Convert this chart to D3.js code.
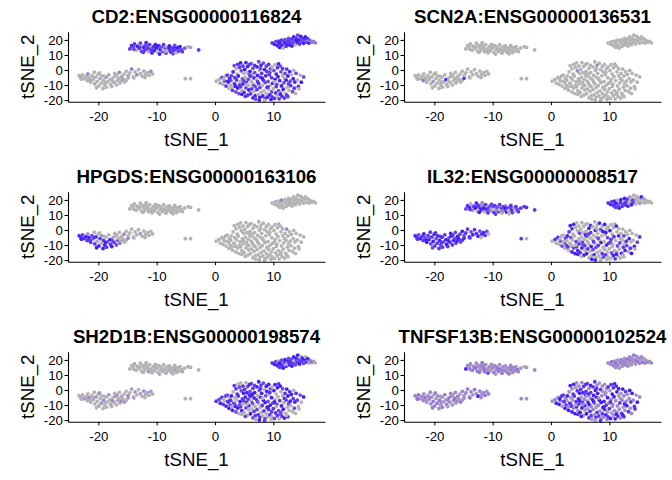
<!DOCTYPE html>
<html>
<head>
<meta charset="utf-8">
<script src="https://cdn.jsdelivr.net/npm/d3@7"></script>
<style>
  body { margin: 0; background: #fff; }
  text { font-family: "Liberation Sans", Arial, sans-serif; fill: #000; }
</style>
</head>
<body>
<svg id="chart" width="672" height="480"></svg>
<script>
// gene titles, one panel each (row by row)
const genes = ["CD2:ENSG00000116824", "SCN2A:ENSG00000136531", "HPGDS:ENSG00000163106",
               "IL32:ENSG00000008517", "SH2D1B:ENSG00000198574", "TNFSF13B:ENSG00000102524"];
const xTicks = [-20, -10, 0, 10];
const yTicks = [-20, -10, 0, 10, 20];

// tSNE coordinates, by cluster
const clusterA = [
  [-14.6,14.0],[-14.3,16.2],[-14.0,15.0],[-13.8,17.3],[-13.5,13.2],[-13.3,15.8],[-13.0,14.4],[-12.8,17.9],[-12.6,12.5],[-12.4,16.3],
  [-12.2,14.9],[-12.0,13.4],[-11.8,18.2],[-11.6,15.6],[-11.4,12.2],[-11.2,16.9],[-11.0,14.1],[-10.8,11.4],[-10.6,15.3],[-10.4,13.0],
  [-10.2,17.1],[-10.0,14.6],[-9.8,11.8],[-9.6,16.2],[-9.4,13.6],[-9.2,15.1],[-9.0,12.4],[-8.8,16.8],[-8.6,14.0],[-8.4,11.2],
  [-8.2,15.5],[-8.0,13.1],[-7.8,16.0],[-7.6,12.0],[-7.4,14.5],[-7.2,10.8],[-7.0,15.2],[-6.8,13.3],[-6.6,11.6],[-6.4,14.8],
  [-6.2,12.6],[-6.0,15.6],[-5.8,13.8],[-5.6,12.2],[-12.9,15.2],[-11.9,16.5],[-10.9,12.9],[-9.9,15.9],[-8.9,13.4],[-7.9,14.7],
  [-13.9,13.8],[-12.3,11.8],[-10.3,16.4],[-8.3,12.7],[-9.5,10.6],[-11.5,14.3],[-7.3,13.0],[-6.9,16.3],[-4.6,15.6],[-4.2,15.0],
  [-2.8,13.4],[-5.2,14.5]
];
const clusterB = [
  [-23.3,-3.8],[-23.0,-4.9],[-22.7,-3.2],[-22.4,-5.8],[-22.1,-4.3],[-21.9,-7.0],[-21.8,-2.6],[-21.6,-5.1],[-21.3,-8.2],[-21.1,-3.7],
  [-20.9,-6.3],[-20.7,-1.5],[-20.6,-9.3],[-20.4,-4.6],[-20.2,-7.6],[-20.0,-2.8],[-19.9,-10.6],[-19.7,-5.7],[-19.5,-8.8],[-19.4,-3.9],
  [-19.2,-12.3],[-19.1,-6.9],[-18.9,-10.0],[-18.7,-4.8],[-18.6,-11.4],[-18.4,-7.9],[-18.2,-3.2],[-18.0,-6.4],[-17.9,-9.6],[-17.7,-11.0],
  [-17.5,-5.2],[-17.3,-8.3],[-17.1,-4.1],[-16.9,-9.9],[-16.7,-6.9],[-16.5,-5.6],[-16.3,-8.7],[-16.1,-7.4],[-15.8,-6.1],[-15.5,-8.0],
  [-15.2,-6.8],[-14.9,-5.4],[-20.3,-11.8],[-21.4,-6.7],[-19.8,-1.9],[-18.8,-8.5],[-17.6,-7.2],[-22.9,-6.1],[-20.8,-5.2],[-19.0,-4.2],
  [-17.2,-2.3],[-16.8,-3.4],[-16.4,-1.6],[-16.0,-4.3],[-15.6,-2.7],[-15.2,-0.9],[-14.9,-3.8],[-14.6,-2.0],[-14.3,0.6],[-14.0,-4.6],
  [-13.7,-1.3],[-13.4,-3.2],[-13.1,0.2],[-12.8,-2.4],[-12.5,-4.1],[-12.2,-0.7],[-11.9,-2.9],[-11.6,-1.7],[-11.3,-3.6],[-11.0,-1.0],
  [-10.7,-2.6],[-15.9,-5.6],[-13.9,-5.3],[-12.0,-5.0]
];
const clusterC = [[-5.1,-5.8],[-4.2,-5.8]];
const clusterD = [
  [0.2,-7.5],[0.7,-6.3],[0.9,-8.8],
  [1.2,-5.0],[1.4,-9.6],[1.6,-7.2],[1.8,-4.1],[1.9,-10.7],[1.5,-6.0],
  [2.1,-3.4],[2.3,-8.1],[2.4,-12.2],[2.5,-5.6],[2.6,-10.0],[2.7,-6.9],[2.8,-3.9],[2.9,-11.3],[2.2,-7.6],
  [3.0,-13.5],[3.1,-1.2],[3.2,-8.7],[3.3,2.9],[3.4,-5.1],[3.5,-10.9],[3.6,0.8],[3.6,-14.6],[3.7,-6.6],[3.8,-2.7],[3.9,-12.0],[3.9,3.8],[3.4,-9.4],
  [4.0,-4.0],[4.1,-15.7],[4.2,1.9],[4.3,-7.8],[4.4,-11.2],[4.4,4.7],[4.5,-0.5],[4.6,-13.8],[4.7,-5.9],[4.8,-9.3],[4.8,2.6],[4.9,-2.1],[4.2,-10.1],[4.6,-16.2],[4.9,-7.0],
  [5.0,-14.9],[5.1,0.4],[5.2,-4.7],[5.3,-11.9],[5.3,4.9],[5.4,-8.3],[5.5,-1.8],[5.6,-16.8],[5.6,2.3],[5.7,-6.2],[5.8,-10.4],[5.8,-13.3],[5.9,-3.3],[5.2,-17.6],[5.5,-9.5],[5.9,3.6],
  [6.0,-0.9],[6.1,-15.8],[6.2,-7.4],[6.2,4.2],[6.3,-12.6],[6.4,-2.8],[6.5,-18.5],[6.5,1.1],[6.6,-9.9],[6.7,-5.3],[6.7,-14.2],[6.8,3.0],[6.9,-11.0],[6.9,-17.1],[6.1,-4.1],[6.4,-8.6],[6.8,-1.7],
  [7.0,-19.4],[7.1,-6.4],[7.2,2.1],[7.2,-13.1],[7.3,-3.6],[7.4,-16.4],[7.5,5.5],[7.5,-9.1],[7.6,-0.2],[7.7,-18.2],[7.7,-11.7],[7.8,-4.9],[7.9,3.3],[7.9,-14.9],[7.3,-7.8],[7.6,-20.0],[7.8,1.0],
  [8.0,-2.2],[8.1,-10.3],[8.2,-17.3],[8.3,4.6],[8.3,-6.9],[8.4,-13.9],[8.5,0.3],[8.6,-19.1],[8.6,-8.4],[8.7,-3.9],[8.8,-15.8],[8.8,2.5],[8.9,-11.6],[8.1,-5.5],[8.5,-20.3],[8.9,-1.0],
  [9.0,-18.0],[9.1,-7.6],[9.2,3.8],[9.2,-13.0],[9.3,-3.0],[9.4,-16.5],[9.5,0.9],[9.5,-10.0],[9.6,-19.6],[9.7,-5.1],[9.7,-14.6],[9.8,2.0],[9.9,-8.8],[9.1,-11.3],[9.4,-1.6],[9.8,-17.9],
  [10.0,-12.4],[10.1,-0.4],[10.2,-18.9],[10.3,-6.2],[10.3,3.6],[10.4,-15.3],[10.5,-2.7],[10.6,-9.5],[10.7,1.5],[10.7,-17.0],[10.8,-4.5],[10.9,-13.7],[10.2,-8.0],[10.5,-11.0],[10.9,4.1],
  [11.0,-19.2],[11.1,-7.1],[11.2,2.6],[11.3,-14.9],[11.3,-1.2],[11.4,-10.6],[11.5,-17.6],[11.6,-3.9],[11.6,0.9],[11.7,-12.8],[11.8,-8.6],[11.9,-5.6],[11.2,-16.1],[11.9,-18.7],
  [12.0,-2.3],[12.1,-15.5],[12.2,-6.8],[12.3,0.6],[12.4,-11.4],[12.5,-17.8],[12.5,-4.0],[12.6,-9.2],[12.7,-13.6],[12.8,-1.1],[12.9,-7.5],[12.3,-16.7],
  [13.0,-10.4],[13.1,-3.0],[13.3,-14.4],[13.4,-5.8],[13.5,-0.3],[13.6,-12.1],[13.7,-8.0],[13.8,-15.6],[13.9,-2.2],
  [14.1,-6.7],[14.3,-10.9],[14.6,-3.4],[14.8,-8.1],[15.2,-4.6],[14.4,-12.6]
];
const clusterE = [
  [9.8,18.0],[10.2,17.1],[10.4,18.8],[10.7,16.2],[10.9,19.2],[11.1,15.0],[11.2,17.6],[11.4,19.8],[11.5,16.4],[11.7,14.6],
  [11.9,18.3],[12.0,20.2],[12.2,15.8],[12.3,17.2],[12.5,19.4],[12.6,21.0],[12.8,16.6],[12.9,18.7],[13.1,20.6],[13.2,15.9],
  [13.4,17.8],[13.5,22.0],[13.6,19.5],[13.8,16.8],[13.9,21.1],[14.1,18.4],[14.2,23.2],[14.4,20.0],[14.5,17.3],[14.7,22.3],
  [14.8,19.1],[15.0,21.2],[15.2,17.8],[15.3,20.4],[15.5,22.0],[15.7,18.6],[15.9,20.9],[16.1,17.9],[16.3,19.7],[16.6,18.4],
  [16.9,19.0],[17.2,18.1],[11.0,17.9],[12.7,17.9],[14.0,19.7]
];

// expression level per cell (0 = none ... 10 = max), gene order as in `genes`
const exprA = [
  "8978098870" + "9897086989" + "7908978897" + "0898779809" + "8978878909" + "7890988701" + "86",
  "0000000000" + "0000000000" + "0000000000" + "0000000000" + "0000000000" + "0000000000" + "00",
  "0000000000" + "0000000000" + "0000000000" + "0000000000" + "0000000000" + "0000000000" + "00",
  "7890378908" + "8937089873" + "9088379890" + "8739807983" + "0878937809" + "8973890888" + "88",
  "0001000000" + "0000200000" + "0100000001" + "0000000200" + "0001000000" + "0000100010" + "00",
  "9323423342" + "3243432832" + "2342343234" + "3423243423" + "3243432342" + "3423242302" + "32"
];
const exprB = [
  "0100003000" + "0010000100" + "0003001000" + "0100000030" + "0001000000" + "0030001040" + "0300010003" + "0100",
  "0000040000" + "0000200000" + "0000000900" + "0000000000" + "0900000000" + "0000000000" + "0000000000" + "0000",
  "8978982987" + "0089109803" + "9890870989" + "2807605030" + "0498097980" + "0000300000" + "0002000000" + "0000",
  "8979889798" + "9878998789" + "8979878998" + "7898978987" + "8979889878" + "9879897889" + "7988978987" + "0980",
  "0102010300" + "1002001020" + "0301002010" + "0020100302" + "0100203010" + "0201003010" + "2001030102" + "0010",
  "3242332423" + "2332423243" + "3423324232" + "4232342324" + "2342323432" + "3234232342" + "3242932342" + "3243"
];
const exprC = ["00", "00", "00", "80", "00", "32"];
const exprD = [
  ["002", "708080", "870907809", "8907890780989", "978089707980897", "8907980897097808", "98078097890879807",
   "70989078098790897", "8097809879078908", "9780897098709878", "078908978097089", "89707980897098",
   "709807980978", "807908907", "080970"].join(""),
  ["000", "000000", "000000000", "0000000000000", "000000300000000", "0000000000000000", "00000000000000000",
   "00000000000030000", "0000000000000000", "0000000000000000", "000000000000000", "00000000000000",
   "000000000000", "000000000", "000000"].join(""),
  ["000", "000000", "000000000", "0000000000000", "000000000000000", "0000000000000000", "00000000000000000",
   "00000000000000000", "0000000000000000", "0000000000000000", "000000000000000", "00000000000000",
   "000300000000", "000000000", "000000"].join(""),
  ["080", "908070", "090870980", "0809708900790", "090780090807090", "8009070900809070", "09008709000890708",
   "90070800907000890", "0809007090800709", "7090080907008090", "090807000980700", "80900709008090",
   "090080709080", "700908090", "090780"].join(""),
  ["879", "980790", "789078908", "9078098708907", "807980798089708", "0897089078908709", "79080978098708979",
   "08970890780980798", "9807980897098079", "0798087909807980", "897098079807908", "08970980790879",
   "807908970890", "090807908", "807090"].join(""),
  ["239", "293829", "829382938", "9389283928398", "892893829839289", "9829389283928938", "89382983928938298",
   "29839283982938928", "9382938293829382", "3928392839283928", "829382938293829", "93829382938293",
   "283928392839", "928392839", "382938"].join("")
];
const exprE = [
  "8979897890" + "9789879789" + "8970897989" + "7898978954" + "44989",
  "0000000000" + "0000000000" + "0000000000" + "0000000000" + "00000",
  "0000000300" + "0000000000" + "0000000000" + "0000000000" + "00000",
  "8978989079" + "8987098789" + "0209080200" + "0020902000" + "00987",
  "8979089789" + "7980978979" + "8907989790" + "8979089044" + "20987",
  "3243234232" + "4323423243" + "2342324323" + "4232342323" + "23432"
];

const clusters = [clusterA, clusterB, clusterC, clusterD, clusterE];
const exprs = [exprA, exprB, exprC, exprD, exprE];

const cells = [];
clusters.forEach((pts, c) => {
  pts.forEach((p, i) => {
    cells.push({ x: p[0], y: p[1], lv: exprs[c].map(s => +(s[i] || 0)) });
  });
});

const panelW = 336, panelH = 160;
const plot = { left: 68, right: 325, top: 31.7, bottom: 101.7 };

const xScale = d3.scaleLinear().domain([-25.2, 18.86]).range([plot.left, plot.right]);
const yScale = d3.scaleLinear().domain([-21.1, 25.5]).range([plot.bottom, plot.top]);
const color = d3.scaleLinear().domain([0, 10]).range(["#B4B4B4", "#0000FF"]).interpolate(d3.interpolateLab);

const svg = d3.select("#chart");

genes.forEach((gene, g) => {
  const panel = svg.append("g")
    .attr("transform", `translate(${(g % 2) * panelW}, ${Math.floor(g / 2) * panelH})`);

  panel.append("g")
    .selectAll("circle")
    .data(cells)
    .enter()
    .append("circle")
    .attr("cx", d => xScale(d.x))
    .attr("cy", d => yScale(d.y))
    .attr("r", 1.9)
    .attr("fill", d => color(d.lv[g]));

  const xAxis = d3.axisBottom(xScale).tickValues(xTicks).tickSize(3.5).tickSizeOuter(0)
    .tickPadding(6).tickFormat(d => String(d));
  const yAxis = d3.axisLeft(yScale).tickValues(yTicks).tickSize(3.5).tickSizeOuter(0)
    .tickPadding(1.5).tickFormat(d => String(d));

  const gx = panel.append("g").attr("transform", `translate(0, ${plot.bottom})`).call(xAxis);
  const gy = panel.append("g").attr("transform", `translate(${plot.left}, 0)`).call(yAxis);

  [gx, gy].forEach(a => {
    a.selectAll("path, line").attr("stroke", "#000").attr("stroke-width", 1.1);
    a.selectAll("text").attr("font-size", 13.3).attr("fill", "#000")
      .attr("font-family", '"Liberation Sans", Arial, sans-serif');
  });

  panel.append("text")
    .attr("x", (plot.left + plot.right) / 2)
    .attr("y", 23)
    .attr("text-anchor", "middle")
    .attr("font-size", 18.7)
    .attr("font-weight", "bold")
    .text(gene);

  panel.append("text")
    .attr("x", (plot.left + plot.right) / 2)
    .attr("y", 145.5)
    .attr("text-anchor", "middle")
    .attr("font-size", 18.7)
    .text("tSNE_1");

  panel.append("text")
    .attr("transform", `translate(34, ${(plot.top + plot.bottom) / 2}) rotate(-90)`)
    .attr("text-anchor", "middle")
    .attr("font-size", 18.7)
    .text("tSNE_2");
});
</script>
</body>
</html>
